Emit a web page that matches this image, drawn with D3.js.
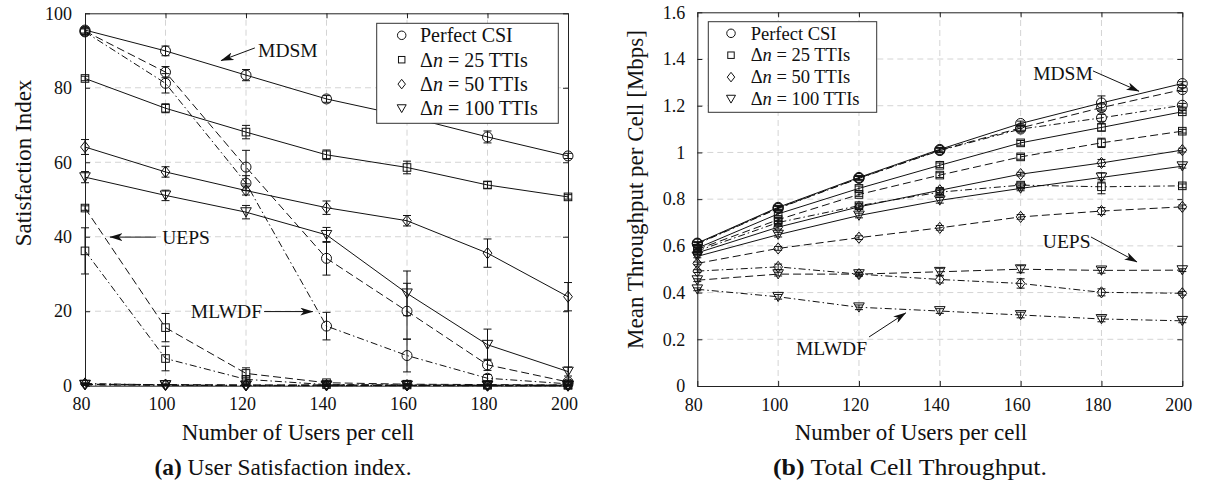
<!DOCTYPE html>
<html>
<head>
<meta charset="utf-8">
<script src="https://cdn.jsdelivr.net/npm/d3@7"></script>
<style>
  body { margin: 0; background: #fff; }
  svg text { font-family: "Liberation Serif", "DejaVu Serif", serif; fill: #111; }
</style>
</head>
<body>
<svg id="fig" width="1205" height="486" font-family="Liberation Serif, DejaVu Serif, serif"></svg>
<script>
// ---------------- data ----------------
const users = [80, 100, 120, 140, 160, 180, 200];
const satTicks = [0, 20, 40, 60, 80, 100];
const thrTicks = [0, 0.2, 0.4, 0.6, 0.8, 1, 1.2, 1.4, 1.6];
const thrTickLabels = ["0", "0.2", "0.4", "0.6", "0.8", "1", "1.2", "1.4", "1.6"];
const legendLabels = ["Perfect CSI", "Δn = 25 TTIs", "Δn = 50 TTIs", "Δn = 100 TTIs"];
const markerKinds = ["circle", "square", "diamond", "triangle"];
const schedulers = ["MDSM", "UEPS", "MLWDF"];

// (a) user satisfaction index [%]
const satMdsmCsi   = [95.5, 89.9, 83.4, 77.0, 72.3, 66.8, 61.7];
const satMdsm25    = [82.5, 74.5, 68.1, 62.0, 58.6, 53.9, 50.7];
const satMdsm50    = [64.1, 57.4, 52.4, 47.8, 44.3, 35.6, 23.9];
const satMdsm100   = [56.0, 51.1, 46.6, 40.5, 24.8, 11.0, 3.8];
const satUepsCsi   = [95.2, 84.2, 58.7, 34.2, 20.0, 5.6, 1.0];
const satUeps25    = [47.7, 15.6, 3.3, 0.8, 0.4, 0.3, 0.2];
const satUeps50    = [0.4, 0.3, 0.2, 0.2, 0.1, 0.1, 0.1];
const satUeps100   = [0.3, 0.2, 0.1, 0.1, 0.1, 0.1, 0.1];
const satMlwdfCsi  = [95.0, 81.2, 54.4, 16.0, 8.1, 2.0, 0.5];
const satMlwdf25   = [36.2, 7.3, 1.7, 0.3, 0.2, 0.1, 0.1];
const satMlwdf50   = [0.6, 0.2, 0.1, 0.1, 0.1, 0.0, 0.0];
const satMlwdf100  = [0.2, 0.1, 0.0, 0.0, 0.0, 0.0, 0.0];
// confidence half-widths
const satMdsmCsiErr  = [0.8, 1.3, 1.5, 0.9, 1.2, 1.6, 0.7];
const satMdsm25Err   = [0.6, 1.2, 1.8, 1.3, 1.7, 0.9, 0.6];
const satMdsm50Err   = [2.0, 1.4, 1.2, 1.8, 1.4, 3.8, 3.8];
const satMdsm100Err  = [1.5, 1.4, 1.8, 2.0, 6.0, 4.2, 1.2];
const satUepsCsiErr  = [0.8, 1.5, 4.5, 4.5, 7.5, 1.5, 0.5];
const satUeps25Err   = [0.6, 3.8, 1.5, 0.3, 0.2, 0.2, 0.1];
const satUeps50Err   = [0.2, 0.2, 0.1, 0.1, 0.1, 0.1, 0.1];
const satUeps100Err  = [0.2, 0.1, 0.1, 0.1, 0.1, 0.1, 0.1];
const satMlwdfCsiErr = [0.8, 2.6, 2.0, 3.7, 4.4, 1.0, 0.3];
const satMlwdf25Err  = [6.2, 3.3, 1.0, 0.2, 0.1, 0.1, 0.1];
const satMlwdf50Err  = [0.2, 0.1, 0.1, 0.1, 0.1, 0.0, 0.0];
const satMlwdf100Err = [0.1, 0.1, 0.0, 0.0, 0.0, 0.0, 0.0];

// (b) mean throughput per cell [Mbps]
const thrMdsmCsi   = [0.612, 0.765, 0.893, 1.013, 1.124, 1.212, 1.295];
const thrMdsm25    = [0.590, 0.737, 0.846, 0.945, 1.041, 1.107, 1.174];
const thrMdsm50    = [0.570, 0.680, 0.767, 0.838, 0.907, 0.955, 1.010];
const thrMdsm100   = [0.555, 0.648, 0.730, 0.795, 0.846, 0.893, 0.941];
const thrUepsCsi   = [0.610, 0.762, 0.890, 1.010, 1.105, 1.192, 1.269];
const thrUeps25    = [0.585, 0.712, 0.820, 0.903, 0.981, 1.041, 1.091];
const thrUeps50    = [0.525, 0.589, 0.635, 0.677, 0.724, 0.749, 0.767];
const thrUeps100   = [0.453, 0.479, 0.479, 0.489, 0.500, 0.495, 0.496];
const thrMlwdfCsi  = [0.608, 0.760, 0.889, 1.008, 1.100, 1.148, 1.202];
const thrMlwdf25   = [0.578, 0.700, 0.772, 0.830, 0.860, 0.853, 0.857];
const thrMlwdf50   = [0.492, 0.510, 0.479, 0.456, 0.439, 0.401, 0.397];
const thrMlwdf100  = [0.414, 0.382, 0.337, 0.321, 0.304, 0.287, 0.279];
const thrMdsmCsiErr  = [0.006, 0.008, 0.008, 0.008, 0.010, 0.030, 0.008];
const thrMdsm25Err   = [0.006, 0.008, 0.010, 0.010, 0.010, 0.015, 0.006];
const thrMdsm50Err   = [0.006, 0.008, 0.008, 0.012, 0.008, 0.015, 0.008];
const thrMdsm100Err  = [0.006, 0.010, 0.010, 0.012, 0.010, 0.020, 0.008];
const thrUepsCsiErr  = [0.006, 0.008, 0.008, 0.010, 0.010, 0.015, 0.008];
const thrUeps25Err   = [0.006, 0.008, 0.008, 0.010, 0.010, 0.020, 0.008];
const thrUeps50Err   = [0.006, 0.008, 0.008, 0.010, 0.010, 0.015, 0.008];
const thrUeps100Err  = [0.006, 0.008, 0.008, 0.015, 0.015, 0.012, 0.006];
const thrMlwdfCsiErr = [0.006, 0.008, 0.008, 0.008, 0.010, 0.015, 0.008];
const thrMlwdf25Err  = [0.006, 0.008, 0.010, 0.010, 0.010, 0.030, 0.008];
const thrMlwdf50Err  = [0.006, 0.012, 0.008, 0.015, 0.020, 0.015, 0.008];
const thrMlwdf100Err = [0.006, 0.010, 0.010, 0.010, 0.012, 0.012, 0.008];

// ---------------- drawing ----------------
const SERIF = "Liberation Serif, DejaVu Serif, serif";
const svg = d3.select("#fig");
svg.append("rect").attr("width", 1205).attr("height", 486).attr("fill", "#fff");

const defs = svg.append("defs");
defs.append("marker")
  .attr("id", "arrowHead").attr("viewBox", "0 0 13 8")
  .attr("refX", 12.5).attr("refY", 4)
  .attr("markerWidth", 13).attr("markerHeight", 8)
  .attr("markerUnits", "userSpaceOnUse").attr("orient", "auto")
  .append("path").attr("d", "M0,0 L13,4 L0,8 L3.5,4 Z").attr("fill", "#111");

const dashFor = { MDSM: null, UEPS: "8,4", MLWDF: "7,3,1.5,3" };
const INK = "#111";

function drawMarker(g, kind, cx, cy, s) {
  s = s || 1;
  if (kind === "circle") {
    g.append("circle").attr("cx", cx).attr("cy", cy).attr("r", 5 * s)
      .attr("fill", "none").attr("stroke", INK).attr("stroke-width", 1);
  } else if (kind === "square") {
    g.append("rect").attr("x", cx - 3.8 * s).attr("y", cy - 3.8 * s)
      .attr("width", 7.6 * s).attr("height", 7.6 * s)
      .attr("fill", "none").attr("stroke", INK).attr("stroke-width", 1);
  } else if (kind === "diamond") {
    g.append("path")
      .attr("d", `M${cx},${cy - 5.6 * s} L${cx + 4.4 * s},${cy} L${cx},${cy + 5.6 * s} L${cx - 4.4 * s},${cy} Z`)
      .attr("fill", "none").attr("stroke", INK).attr("stroke-width", 1);
  } else {
    g.append("path")
      .attr("d", `M${cx - 5.3 * s},${cy - 4.4 * s} L${cx + 5.3 * s},${cy - 4.4 * s} L${cx},${cy + 4.8 * s} Z`)
      .attr("fill", "none").attr("stroke", INK).attr("stroke-width", 1);
  }
}

function legendText(sel, label) {
  if (label.startsWith("Δn")) {
    sel.append("tspan").text("Δ");
    sel.append("tspan").attr("font-style", "italic").text("n");
    sel.append("tspan").text(label.slice(2));
  } else {
    sel.text(label);
  }
}

function drawPanel(cfg) {
  const { x, y, yTicks, yFormat, series, legend, notes, yPad } = cfg;
  const g = svg.append("g").attr("font-family", SERIF);
  const [xa, xb] = x.range();
  const [ya, yb] = y.range(); // ya bottom, yb top

  // dashed grid
  const grid = g.append("g").attr("stroke", "#d4d4d4").attr("stroke-width", 1)
    .attr("stroke-dasharray", "6,4");
  users.slice(1, -1).forEach(v => grid.append("line")
    .attr("x1", x(v)).attr("x2", x(v)).attr("y1", ya).attr("y2", yb));
  yTicks.slice(1, -1).forEach(v => grid.append("line")
    .attr("x1", xa).attr("x2", xb).attr("y1", y(v)).attr("y2", y(v)));

  // axes (inward ticks on all four sides)
  const styleAxis = a => {
    a.attr("font-size", 18).attr("font-family", SERIF);
    a.selectAll("path,line").attr("stroke", "#222");
  };
  g.append("g").attr("transform", `translate(0,${ya})`)
    .call(d3.axisBottom(x).tickValues(users).tickSizeInner(-5).tickSizeOuter(0).tickPadding(12))
    .call(styleAxis).selectAll("text").attr("x", -4);
  g.append("g").attr("transform", `translate(0,${yb})`)
    .call(d3.axisTop(x).tickValues(users).tickFormat("").tickSizeInner(-5).tickSizeOuter(0))
    .call(styleAxis);
  g.append("g").attr("transform", `translate(${xa},0)`)
    .call(d3.axisLeft(y).tickValues(yTicks).tickFormat(yFormat).tickSizeInner(-5).tickSizeOuter(0).tickPadding(yPad))
    .call(styleAxis);
  g.append("g").attr("transform", `translate(${xb},0)`)
    .call(d3.axisRight(y).tickValues(yTicks).tickFormat("").tickSizeInner(-5).tickSizeOuter(0))
    .call(styleAxis);

  // series lines
  const line = d3.line().x((d, i) => x(users[i])).y(d => y(d));
  const lg = g.append("g");
  series.forEach(s => {
    lg.append("path").attr("d", line(s.values))
      .attr("fill", "none").attr("stroke", INK).attr("stroke-width", 1)
      .attr("stroke-dasharray", dashFor[s.scheduler]);
  });
  // error bars
  const eg = g.append("g").attr("stroke", INK).attr("stroke-width", 1);
  series.forEach(s => {
    s.values.forEach((v, i) => {
      const e = s.errors[i];
      if (!e) return;
      const cx = x(users[i]);
      const top = y(v + e), bot = y(v - e);
      eg.append("line").attr("x1", cx).attr("x2", cx).attr("y1", top).attr("y2", bot);
      eg.append("line").attr("x1", cx - 4).attr("x2", cx + 4).attr("y1", top).attr("y2", top);
      eg.append("line").attr("x1", cx - 4).attr("x2", cx + 4).attr("y1", bot).attr("y2", bot);
    });
  });
  // markers
  const mg = g.append("g");
  series.forEach(s => s.values.forEach((v, i) => drawMarker(mg, s.marker, x(users[i]), y(v))));

  // legend
  const L = legend;
  const leg = g.append("g");
  leg.append("rect").attr("x", L.x).attr("y", L.y).attr("width", L.w).attr("height", L.h)
    .attr("fill", "#fff").attr("stroke", "#333").attr("stroke-width", 1);
  legendLabels.forEach((lab, k) => {
    const ry = L.y + L.first + k * L.step;
    drawMarker(leg, markerKinds[k], L.mx, ry, 0.85);
    const t = leg.append("text").attr("x", L.tx).attr("y", ry).attr("dy", "0.34em")
      .attr("font-size", L.fs).attr("font-family", SERIF);
    legendText(t, lab);
  });

  // scheduler annotations (positions in data units)
  notes.forEach(n => {
    g.append("text").attr("x", x(n.at[0])).attr("y", y(n.at[1])).attr("dy", "0.35em")
      .attr("font-size", 19.5).attr("font-family", SERIF).text(n.text);
    g.append("line")
      .attr("x1", x(n.from[0])).attr("y1", y(n.from[1]))
      .attr("x2", x(n.to[0])).attr("y2", y(n.to[1]))
      .attr("stroke", INK).attr("stroke-width", 1).attr("marker-end", "url(#arrowHead)");
  });
}

function buildSeries(vals, errs) {
  const out = [];
  schedulers.forEach((sch, si) => markerKinds.forEach((mk, mi) => {
    out.push({ scheduler: sch, marker: mk, values: vals[si][mi], errors: errs[si][mi] });
  }));
  return out;
}

// ---- panel (a)
const xSat = d3.scaleLinear().domain([80, 200]).range([85, 568]);
const ySat = d3.scaleLinear().domain([0, 100]).range([385.7, 13.3]);
drawPanel({
  x: xSat, y: ySat, yTicks: satTicks, yFormat: d => d, yPad: 13,
  series: buildSeries(
    [[satMdsmCsi, satMdsm25, satMdsm50, satMdsm100],
     [satUepsCsi, satUeps25, satUeps50, satUeps100],
     [satMlwdfCsi, satMlwdf25, satMlwdf50, satMlwdf100]],
    [[satMdsmCsiErr, satMdsm25Err, satMdsm50Err, satMdsm100Err],
     [satUepsCsiErr, satUeps25Err, satUeps50Err, satUeps100Err],
     [satMlwdfCsiErr, satMlwdf25Err, satMlwdf50Err, satMlwdf100Err]]),
  legend: { x: 376.7, y: 23.3, w: 181.6, h: 100, first: 12, step: 24.4, mx: 401.7, tx: 420, fs: 20 },
  notes: [
    { text: "MDSM",  at: [123.0, 90.2], from: [122.2, 90.7], to: [113.8, 87.3] },
    { text: "UEPS",  at: [99.2, 39.9],  from: [97.6, 39.9],  to: [86.2, 39.9] },
    { text: "MLWDF", at: [106.3, 19.9], from: [124.5, 19.9], to: [136.6, 19.9] }
  ]
});

// ---- panel (b)
const xThr = d3.scaleLinear().domain([80, 200]).range([697.3, 1182.3]);
const yThr = d3.scaleLinear().domain([0, 1.6]).range([386, 12.3]);
drawPanel({
  x: xThr, y: yThr, yTicks: thrTicks, yFormat: (d, i) => thrTickLabels[i], yPad: 12,
  series: buildSeries(
    [[thrMdsmCsi, thrMdsm25, thrMdsm50, thrMdsm100],
     [thrUepsCsi, thrUeps25, thrUeps50, thrUeps100],
     [thrMlwdfCsi, thrMlwdf25, thrMlwdf50, thrMlwdf100]],
    [[thrMdsmCsiErr, thrMdsm25Err, thrMdsm50Err, thrMdsm100Err],
     [thrUepsCsiErr, thrUeps25Err, thrUeps50Err, thrUeps100Err],
     [thrMlwdfCsiErr, thrMlwdf25Err, thrMlwdf50Err, thrMlwdf100Err]]),
  legend: { x: 708.3, y: 21.7, w: 168.4, h: 90.6, first: 11.6, step: 21.9, mx: 731, tx: 750.7, fs: 18.5 },
  notes: [
    { text: "MDSM",  at: [163.1, 1.340], from: [177.9, 1.349], to: [189.3, 1.262] },
    { text: "UEPS",  at: [165.5, 0.618], from: [177.4, 0.638], to: [188.8, 0.531] },
    { text: "MLWDF", at: [104.4, 0.161], from: [122.5, 0.210], to: [131.6, 0.313] }
  ]
});

// axis titles and captions
const titles = svg.append("g").attr("font-family", SERIF);
titles.append("text").attr("transform", "translate(31,163) rotate(-90)")
  .attr("text-anchor", "middle").attr("font-size", 23).text("Satisfaction Index");
titles.append("text").attr("transform", "translate(643,189.5) rotate(-90)")
  .attr("text-anchor", "middle").attr("font-size", 23).text("Mean Throughput per Cell [Mbps]");
titles.append("text").attr("x", 298).attr("y", 440).attr("text-anchor", "middle")
  .attr("font-size", 23).text("Number of Users per cell");
titles.append("text").attr("x", 911).attr("y", 440).attr("text-anchor", "middle")
  .attr("font-size", 23).text("Number of Users per cell");

const capA = titles.append("text").attr("x", 283).attr("y", 475).attr("text-anchor", "middle")
  .attr("font-size", 23).attr("textLength", 257).attr("lengthAdjust", "spacingAndGlyphs");
capA.append("tspan").attr("font-weight", "bold").text("(a)");
capA.append("tspan").text(" User Satisfaction index.");
const capB = titles.append("text").attr("x", 910).attr("y", 475).attr("text-anchor", "middle")
  .attr("font-size", 23).attr("textLength", 274).attr("lengthAdjust", "spacingAndGlyphs");
capB.append("tspan").attr("font-weight", "bold").text("(b)");
capB.append("tspan").text(" Total Cell Throughput.");
</script>
</body>
</html>
